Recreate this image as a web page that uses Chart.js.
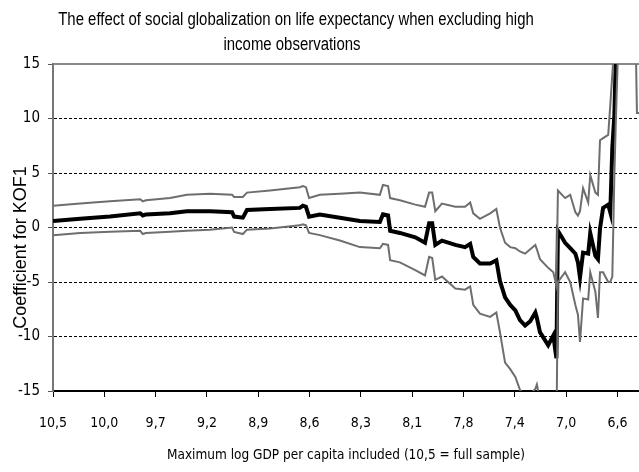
<!DOCTYPE html>
<html>
<head>
<meta charset="utf-8">
<script src="https://cdn.jsdelivr.net/npm/chart.js@4/dist/chart.umd.min.js"></script>
<style>
  html, body { margin: 0; padding: 0; background: #fff; }
  #wrap { width: 639px; height: 472px; }
</style>
</head>
<body>
<div id="wrap"><canvas id="grafico"></canvas></div>
<script>
const xTickLabels = ['10,5', '10,0', '9,7', '9,2', '8,9', '8,6', '8,3', '8,1', '7,8', '7,4', '7,0', '6,6'];

// position along the axis, in tick units (0 = 10,5)
const xPos = [0, 0.53, 1.11, 1.70, 1.75, 1.81, 2.28, 2.61, 3.06, 3.49, 3.53, 3.70, 3.78, 4.23, 4.81, 4.87, 4.93, 4.99, 5.20, 5.59,
  5.98, 6.37, 6.43, 6.53, 6.57, 6.76, 7.06, 7.25, 7.33, 7.39, 7.45, 7.58, 7.84, 8.03, 8.13, 8.19, 8.32, 8.52, 8.64, 8.71,
  8.81, 8.91, 9.01, 9.10, 9.20, 9.30, 9.40, 9.43, 9.49, 9.65, 9.75, 9.81, 9.84, 9.98, 10.08, 10.18, 10.23, 10.27, 10.33, 10.43,
  10.47, 10.57, 10.62, 10.66, 10.72, 10.82, 10.86, 10.90, 10.94, 10.97, 11.01, 11.36, 11.38, 11.42];

const coef = [0.6, 0.8, 1.0, 1.3, 1.1, 1.2, 1.3, 1.5, 1.5, 1.4, 1.0, 0.9, 1.6, 1.7, 1.8, 2.0, 1.9, 1.0, 1.2, 0.9,
  0.6, 0.5, 1.2, 1.1, -0.3, -0.5, -0.9, -1.4, 0.4, 0.4, -1.6, -1.2, -1.6, -1.8, -1.5, -2.7, -3.3, -3.3, -3.0, -4.9,
  -6.4, -7.1, -7.6, -8.5, -9.0, -8.6, -7.8, -8.3, -9.6, -10.8, -9.9, -12.0, -0.3, -1.4, -1.9, -2.4, -3.2, -4.6, -2.3, -2.4,
  -0.5, -2.6, -2.9, -0.1, 1.8, 2.1, 1.4, 7.3, 10.3, 16, 20, 22, 20, 20];

const upper = [2.0, 2.2, 2.4, 2.6, 2.4, 2.5, 2.7, 3.0, 3.1, 3.0, 2.8, 2.8, 3.2, 3.4, 3.7, 3.8, 3.7, 2.7, 3.0, 3.1,
  3.2, 3.0, 3.9, 3.8, 2.7, 2.5, 2.1, 1.9, 3.2, 3.2, 1.5, 2.2, 1.9, 1.9, 2.3, 1.3, 0.8, 1.3, 1.7, 0.0,
  -1.4, -1.8, -1.9, -2.2, -2.4, -2.0, -1.6, -2.0, -2.9, -3.7, -4.1, -5.3, 3.4, 2.7, 3.0, 1.4, 1.1, 1.5, 3.6, 2.3,
  4.8, 3.2, 3.0, 8.0, 8.2, 8.5, 11.2, 14, 17, 20, 25, 25, 25, 25];

const lower = [-0.7, -0.5, -0.4, -0.3, -0.6, -0.5, -0.4, -0.3, -0.2, 0.0, -0.4, -0.6, -0.2, -0.1, 0.2, 0.3, 0.2, -0.5, -0.7, -1.2,
  -1.8, -1.9, -1.5, -1.6, -3.0, -3.2, -3.9, -4.4, -2.7, -2.8, -4.8, -4.5, -5.6, -5.7, -5.4, -7.1, -7.9, -8.2, -7.8, -9.6,
  -12.4, -13.0, -13.7, -14.9, -15.6, -15.3, -14.8, -14.4, -15.8, -17, -16, -19, -5.0, -4.1, -5.0, -7.1, -8.0, -10.5, -6.5, -6.6,
  -4.1, -5.9, -8.3, -4.1, -4.1, -5.0, -5.0, -4.5, 4.8, 10, 16, 16, 10.5, 10.5];

const titleLines = ['The effect of social globalization on life expectancy when excluding high', 'income observations'];

const narrow = "'DejaVu Sans Condensed', sans-serif";

function puntos(vals) {
    return xPos.map((x, i) => ({ x: x, y: vals[i] }));
}

// título en dos líneas, estrechado para parecer Arial Narrow
const tituloPlugin = {
    id: 'titulo',
    afterDraw(chart) {
        const ctx = chart.ctx;
        ctx.save();
        ctx.fillStyle = '#000';
        ctx.font = "18px 'Liberation Sans', Arial, sans-serif";
        ctx.textAlign = 'center';
        ctx.textBaseline = 'middle';
        ctx.scale(0.83, 1);
        ctx.fillText(titleLines[0], 296 / 0.83, 20);
        ctx.fillText(titleLines[1], 292 / 0.83, 45);
        ctx.restore();
    }
};

const ctx = document.getElementById('grafico').getContext('2d');
const chart = new Chart(ctx, {
    type: 'line',
    data: {
        datasets: [
            { label: 'upper', data: puntos(upper), borderColor: '#6e6e6e', borderWidth: 2 },
            { label: 'lower', data: puntos(lower), borderColor: '#6e6e6e', borderWidth: 2 },
            { label: 'coef', data: puntos(coef), borderColor: '#000', borderWidth: 4 }
        ]
    },
    options: {
        responsive: true,
        maintainAspectRatio: false,
        animation: false,
        layout: { padding: { top: 64, left: 0, right: 0, bottom: 0 } },
        elements: {
            point: { radius: 0 },
            line: { tension: 0, fill: false, borderJoinStyle: 'miter' }
        },
        plugins: {
            legend: { display: false },
            tooltip: { enabled: false },
            title: { display: false }
        },
        scales: {
            x: {
                type: 'linear',
                min: 0,
                max: 11.42,
                afterFit: s => { s.height = 81; },
                ticks: {
                    stepSize: 1,
                    includeBounds: false,
                    autoSkip: false,
                    maxRotation: 0,
                    padding: 8,
                    color: '#000',
                    font: { family: narrow, size: 14, lineHeight: '36px' },
                    callback: v => {
                        const k = Math.round(v);
                        return xTickLabels[k] !== undefined ? xTickLabels[k] : '';
                    }
                },
                grid: { drawOnChartArea: false, drawTicks: true, tickLength: 6, tickColor: '#000' },
                border: { display: true, color: '#000', width: 2 },
                title: {
                    display: true,
                    text: 'Maximum log GDP per capita included (10,5 = full sample)',
                    color: '#000',
                    font: { family: narrow, size: 13.5 },
                    padding: { top: 0, bottom: 8 }
                }
            },
            x2: {
                type: 'linear',
                position: 'top',
                min: 0,
                max: 11.42,
                ticks: { display: false },
                grid: { display: false, drawTicks: false },
                border: { display: true, color: '#8a8a8a', width: 2 }
            },
            y: {
                min: -15,
                max: 15,
                afterFit: s => { s.width = 53; },
                ticks: {
                    stepSize: 5,
                    padding: 8,
                    color: '#000',
                    font: { family: narrow, size: 15 }
                },
                grid: {
                    color: c => (c.tick && Math.abs(c.tick.value) < 15) ? '#000' : 'rgba(0,0,0,0)',
                    tickColor: '#555',
                    tickLength: 5,
                    lineWidth: 1
                },
                border: { display: true, color: '#777', width: 2, dash: [3, 2] },
                title: {
                    display: true,
                    text: 'Coefficient for KOF1        ',
                    color: '#000',
                    font: { family: "'Liberation Sans', Arial, sans-serif", size: 18 },
                    padding: { top: 10, bottom: 0 }
                }
            }
        }
    },
    plugins: [tituloPlugin]
});
</script>
</body>
</html>
